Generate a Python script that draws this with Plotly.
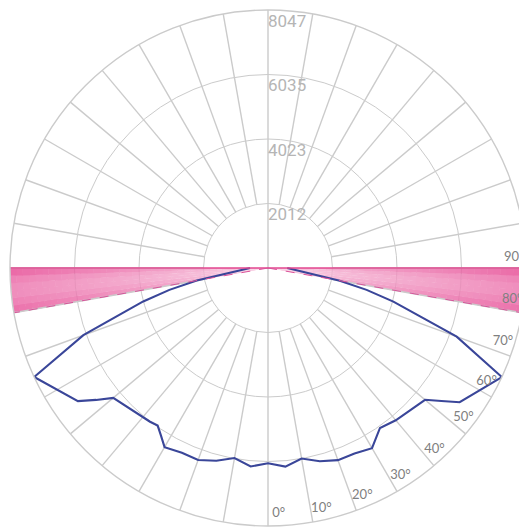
import plotly.graph_objects as go

# ---------------- data ----------------
r_max = 8047
radial_ticks = [2012, 4023, 6035, 8047]
radial_tick_text = ["2012", "4023", "6035", "8047"]
angle_ticks = [0, 10, 20, 30, 40, 50, 60, 70, 80, 90]
angle_tick_text = ["0°", "10°", "20°", "30°", "40°", "50°", "60°", "70°", "80°", "90°"]

# intensity curve, right half (C0 plane), gamma angle in degrees
right_angles = [0, 5, 10, 15, 20, 25, 30, 35, 40, 50, 52.5, 55, 65, 70, 75, 77.5, 80, 90]
right_values = [6092, 6219, 6036, 6242, 6378, 6385, 6488, 6090, 6200, 6394, 6818, 7298,
                8047, 6263, 4048, 3150, 2272, 600]
# left half (C180 plane)
left_angles = [0, 5, 10, 15, 20, 25, 30, 32.5, 35, 37.5, 50, 52.5, 55, 65, 70, 75, 77.5, 80, 90]
left_values = [6092, 6214, 6017, 6225, 6373, 6356, 6453, 6207, 6000, 6044, 6302, 6759, 7238,
               8047, 6128, 4029, 3150, 2255, 560]

# highlighted glare zone (degrees)
zone_start = 80
zone_end = 90

# ---------------- figure ----------------
grid_col = "#cbcbcb"
fig = go.Figure()

# spokes every 10 deg, starting at first ring (vertical one goes through centre)
sth, sr = [], []
for a in range(0, 360, 10):
    if a in (0, 180):
        continue
    sth += [a, a, None]
    sr += [radial_ticks[0], r_max, None]
sth += [0, 0, None, 180, 180]
sr += [0, r_max, None, 0, r_max]
fig.add_trace(go.Scatterpolar(theta=sth, r=sr, mode="lines",
                              line=dict(color=grid_col, width=1.4),
                              hoverinfo="skip", connectgaps=False))

# intensity curve (left from 90 down to 0, then right 0 -> 90)
curve_theta = [-a for a in left_angles[::-1]] + right_angles[1:]
curve_r = left_values[::-1] + right_values[1:]
fig.add_trace(go.Scatterpolar(theta=curve_theta, r=curve_r, mode="lines",
                              line=dict(color="#3a4699", width=2.1)))

# glare zone with gradient (built from small sectors)
inner = (253, 236, 245)
outer = (230, 70, 146)
n_rad, n_ang = 40, 6
dr = r_max / n_rad
da = (zone_end - zone_start) / n_ang
bt, br, bb, bw, bc = [], [], [], [], []
for side in (1, -1):
    for j in range(n_ang):
        tfrac = (j + 0.5) / n_ang  # 0 at 80deg, 1 at 90deg
        ang_f = 0.72 + 0.28 * abs(2 * tfrac - 1) ** 1.5
        if tfrac > 0.8:
            ang_f = min(1.0, ang_f + 0.08)
        for i in range(n_rad):
            rf = (i + 0.5) / n_rad
            f = (0.30 + 0.70 * rf ** 0.9) * ang_f
            col = tuple(int(round(inner[k] + (outer[k] - inner[k]) * f)) for k in range(3))
            bt.append(side * (zone_start + (j + 0.5) * da))
            br.append(dr * 1.08)
            bb.append(i * dr)
            bw.append(da * 1.08)
            bc.append("rgb(%d,%d,%d)" % col)
br = [min(v, r_max - b) for v, b in zip(br, bb)]
fig.add_trace(go.Barpolar(theta=bt, r=br, base=bb, width=bw,
                          marker=dict(color=bc, line=dict(width=0)),
                          opacity=0.8, hoverinfo="skip"))

# zone edges
fig.add_trace(go.Scatterpolar(theta=[zone_end, zone_end, None, -zone_end, -zone_end],
                              r=[0, r_max, None, 0, r_max], mode="lines",
                              line=dict(color="#e2478f", width=1.6), hoverinfo="skip"))
fig.add_trace(go.Scatterpolar(theta=[zone_start, zone_start, None, -zone_start, -zone_start],
                              r=[0, r_max, None, 0, r_max], mode="lines",
                              line=dict(color="#d9529a", width=1, dash="dash"),
                              hoverinfo="skip"))

# radial value labels (placed just inside each ring, right of the vertical line)
label_drop = 0.016 * r_max
fig.add_trace(go.Scatterpolar(theta=[180] * len(radial_ticks), r=[t - label_drop for t in radial_ticks],
                              text=radial_tick_text, mode="text",
                              textposition="bottom right", cliponaxis=False,
                              textfont=dict(color="#b5b5b5", size=17,
                                            family="Liberation Sans Narrow, Roboto, Liberation Sans"),
                              hoverinfo="skip"))

# angle labels
fig.add_trace(go.Scatterpolar(theta=[a + 2.5 for a in angle_ticks], r=[r_max * 0.955] * len(angle_ticks),
                              text=angle_tick_text, mode="text",
                              textposition="middle center", cliponaxis=False,
                              textfont=dict(color="#808080", size=13, family="Lato, Open Sans"),
                              hoverinfo="skip"))

# page has an 8px body margin: plot area is shifted, so size and place accordingly
W, H = 519, 520
cx, cy, R = 260, 260, 258
fig.update_layout(
    width=W, height=H,
    margin=dict(l=0, r=0, t=0, b=0),
    paper_bgcolor="white",
    plot_bgcolor="white",
    showlegend=False,
    polar=dict(
        domain=dict(x=[(cx - R) / W, (cx + R) / W], y=[(H - cy - R) / H, (H - cy + R) / H]),
        bgcolor="white",
        barmode="overlay",
        radialaxis=dict(range=[0, r_max], tickvals=radial_ticks, showticklabels=False,
                        ticks="", showline=False, gridcolor=grid_col, gridwidth=1.4),
        angularaxis=dict(rotation=270, direction="counterclockwise", showgrid=False,
                         showticklabels=False, ticks="", showline=True,
                         linecolor=grid_col, linewidth=1.4),
    ),
)

fig.write_html("out.html")
